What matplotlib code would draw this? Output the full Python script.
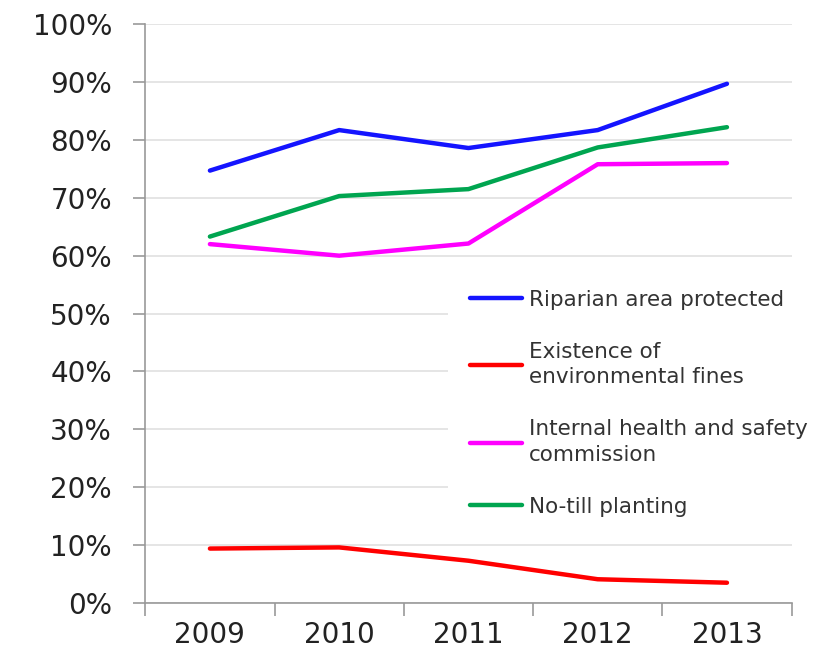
import matplotlib.pyplot as plt
import numpy as np

years = ['2009', '2010', '2011', '2012', '2013']
riparian = [74.7, 81.7, 78.6, 81.7, 89.7]
fines = [9.4, 9.6, 7.3, 4.1, 3.5]
health = [62.0, 60.0, 62.1, 75.8, 76.0]
notill = [63.3, 70.3, 71.5, 78.7, 82.2]

labels = ['Riparian area protected',
          'Existence of\nenvironmental fines',
          'Internal health and safety\ncommission',
          'No-till planting']
colors = ['#1414ff', '#ff0000', '#ff00ff', '#00a550']
series = [riparian, fines, health, notill]

fig = plt.figure(figsize=(8.35, 6.6), dpi=100)
ax = fig.add_axes([0.174, 0.0864, 0.774, 0.877])

x = np.arange(len(years))
for vals, lab, col in zip(series, labels, colors):
    ax.plot(x, vals, color=col, lw=3.2, label=lab, solid_capstyle='round')

ax.set_xlim(-0.5, len(years) - 0.5)
ax.set_ylim(0, 100)
ax.set_yticks(np.arange(0, 101, 10))
ax.set_yticklabels([f'{v}%' for v in range(0, 101, 10)])
ax.set_xticks(x)
ax.set_xticklabels(years)
ax.set_xticks(np.arange(-0.5, len(years), 1), minor=True)
ax.tick_params(axis='x', which='major', length=0, pad=13, labelsize=20, labelcolor='#222222')
ax.tick_params(axis='x', which='minor', length=9, color='#999999', width=1.2)
ax.tick_params(axis='y', length=9, color='#999999', width=1.2, pad=15,
               labelsize=20, labelcolor='#222222')

ax.grid(axis='y', color='#e0e0e0', lw=1.2)
ax.set_axisbelow(True)
for s in ['top', 'right']:
    ax.spines[s].set_visible(False)
for s in ['left', 'bottom']:
    ax.spines[s].set_color('#999999')
    ax.spines[s].set_linewidth(1.2)

leg = ax.legend(loc='upper left', bbox_to_anchor=(0.469, 0.578), frameon=True,
                fancybox=False, edgecolor='none', facecolor='white', framealpha=1,
                fontsize=15.5, handlelength=2.4, handletextpad=0.35,
                labelspacing=1.48, borderaxespad=0, borderpad=1.0)
for t in leg.get_texts():
    t.set_color('#333333')
    t.set_linespacing(1.35)
for h in leg.get_lines():
    h.set_linewidth(3.2)

fig.savefig('out.png', dpi=100)
